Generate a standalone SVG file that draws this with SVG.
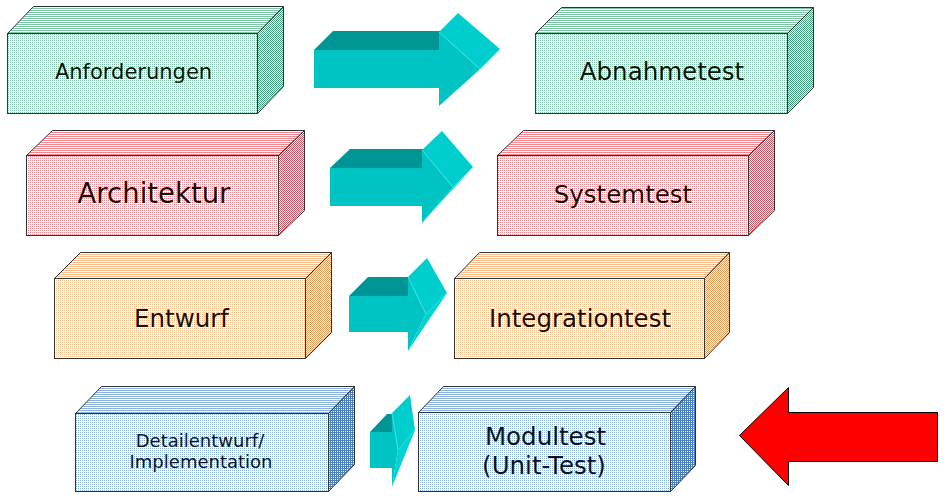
<svg xmlns="http://www.w3.org/2000/svg" width="948" height="503" viewBox="0 0 948 503">
<style>
.edge{stroke:#333;stroke-width:1;stroke-linejoin:miter}
.lbl{font-family:"DejaVu Sans","Verdana",sans-serif;fill:#111;text-anchor:middle}
.af{fill:#00C3C3}.at{fill:#009595}.au{fill:#00CDCD}.al{fill:#00D3D3}
.hl{stroke:#40E4E4;stroke-width:1;fill:none}
</style>
<defs>
<pattern id="gF" width="2" height="2" patternUnits="userSpaceOnUse"><rect width="2" height="2" fill="#fff"/><rect width="1" height="1" fill="#80c6a6"/></pattern>
<pattern id="gT" width="2" height="2" patternUnits="userSpaceOnUse"><rect width="2" height="2" fill="#fff"/><rect width="2" height="1" fill="#80c6a6"/></pattern>
<pattern id="gS" width="2" height="2" patternUnits="userSpaceOnUse"><rect width="2" height="2" fill="#fff"/><rect width="1" height="1" fill="#40a87a"/><rect x="1" y="1" width="1" height="1" fill="#40a87a"/></pattern>
<pattern id="rF" width="2" height="2" patternUnits="userSpaceOnUse"><rect width="2" height="2" fill="#fff"/><rect width="1" height="1" fill="#f08890"/></pattern>
<pattern id="rT" width="2" height="2" patternUnits="userSpaceOnUse"><rect width="2" height="2" fill="#fff"/><rect width="2" height="1" fill="#f08890"/></pattern>
<pattern id="rS" width="2" height="2" patternUnits="userSpaceOnUse"><rect width="2" height="2" fill="#fff"/><rect width="1" height="1" fill="#e05260"/><rect x="1" y="1" width="1" height="1" fill="#e05260"/></pattern>
<pattern id="oF" width="2" height="2" patternUnits="userSpaceOnUse"><rect width="2" height="2" fill="#fff"/><rect width="1" height="1" fill="#f8bc8e"/></pattern>
<pattern id="oT" width="2" height="2" patternUnits="userSpaceOnUse"><rect width="2" height="2" fill="#fff"/><rect width="2" height="1" fill="#f8bc8e"/></pattern>
<pattern id="oS" width="2" height="2" patternUnits="userSpaceOnUse"><rect width="2" height="2" fill="#fff"/><rect width="1" height="1" fill="#f09a5c"/><rect x="1" y="1" width="1" height="1" fill="#f09a5c"/></pattern>
<pattern id="bF" width="2" height="2" patternUnits="userSpaceOnUse"><rect width="2" height="2" fill="#fff"/><rect width="1" height="1" fill="#8cb2dc"/></pattern>
<pattern id="bT" width="2" height="2" patternUnits="userSpaceOnUse"><rect width="2" height="2" fill="#fff"/><rect width="2" height="1" fill="#8cb2dc"/></pattern>
<pattern id="bS" width="2" height="2" patternUnits="userSpaceOnUse"><rect width="2" height="2" fill="#4a80bc"/><rect x="1" y="1" width="1" height="1" fill="#fff"/></pattern>
</defs>
<rect width="948" height="503" fill="#fff"/>

<g id="anforderungen">
<polygon class="edge" fill="url(#gT)" points="7.5,33.5 33.5,6.5 283.5,6.5 257.5,33.5"/>
<polygon class="edge" fill="url(#gS)" points="257.5,33.5 283.5,6.5 283.5,86.5 257.5,113.5"/>
<rect class="edge" fill="url(#gF)" x="7.5" y="33.5" width="250" height="80"/>
<text class="lbl" x="133.5" y="79" font-size="21">Anforderungen</text>
</g>

<g id="abnahmetest">
<polygon class="edge" fill="url(#gT)" points="535.5,33.5 561.5,7.5 813.5,7.5 787.5,33.5"/>
<polygon class="edge" fill="url(#gS)" points="787.5,33.5 813.5,7.5 813.5,87.5 787.5,113.5"/>
<rect class="edge" fill="url(#gF)" x="535.5" y="33.5" width="252" height="80"/>
<text class="lbl" x="662" y="80" font-size="24.5">Abnahmetest</text>
</g>

<g id="architektur">
<polygon class="edge" fill="url(#rT)" points="26.5,155.5 52.5,130.5 304.5,130.5 278.5,155.5"/>
<polygon class="edge" fill="url(#rS)" points="278.5,155.5 304.5,130.5 304.5,210.5 278.5,235.5"/>
<rect class="edge" fill="url(#rF)" x="26.5" y="155.5" width="252" height="80"/>
<text class="lbl" x="154" y="203" font-size="27.5">Architektur</text>
</g>

<g id="systemtest">
<polygon class="edge" fill="url(#rT)" points="497.5,155.5 523.5,130.5 774.5,130.5 748.5,155.5"/>
<polygon class="edge" fill="url(#rS)" points="748.5,155.5 774.5,130.5 774.5,210.5 748.5,235.5"/>
<rect class="edge" fill="url(#rF)" x="497.5" y="155.5" width="251" height="80"/>
<text class="lbl" x="623" y="203" font-size="24.5">Systemtest</text>
</g>

<g id="entwurf">
<polygon class="edge" fill="url(#oT)" points="54.5,278.5 80.5,252.5 331.5,252.5 305.5,278.5"/>
<polygon class="edge" fill="url(#oS)" points="305.5,278.5 331.5,252.5 331.5,332.5 305.5,358.5"/>
<rect class="edge" fill="url(#oF)" x="54.5" y="278.5" width="251" height="80"/>
<text class="lbl" x="181.5" y="327" font-size="24.5">Entwurf</text>
</g>

<g id="integrationtest">
<polygon class="edge" fill="url(#oT)" points="454.5,278.5 479.5,252.5 729.5,252.5 704.5,278.5"/>
<polygon class="edge" fill="url(#oS)" points="704.5,278.5 729.5,252.5 729.5,332.5 704.5,358.5"/>
<rect class="edge" fill="url(#oF)" x="454.5" y="278.5" width="250" height="80"/>
<text class="lbl" x="580" y="327" font-size="24.5">Integrationtest</text>
</g>

<g id="detailentwurf">
<polygon class="edge" fill="url(#bT)" points="75.5,413.5 101.5,386.5 354.5,386.5 328.5,413.5"/>
<polygon class="edge" fill="url(#bS)" points="328.5,413.5 354.5,386.5 354.5,464.5 328.5,491.5"/>
<rect class="edge" fill="url(#bF)" x="75.5" y="413.5" width="253" height="78"/>
<text class="lbl" x="200" y="447" font-size="18">Detailentwurf/</text>
<text class="lbl" x="201" y="468" font-size="18">Implementation</text>
</g>

<g id="modultest">
<polygon class="edge" fill="url(#bT)" points="418.5,412.5 443.5,386.5 695.5,386.5 670.5,412.5"/>
<polygon class="edge" fill="url(#bS)" points="670.5,412.5 695.5,386.5 695.5,465.5 670.5,491.5"/>
<rect class="edge" fill="url(#bF)" x="418.5" y="412.5" width="252" height="79"/>
<text class="lbl" x="545.5" y="445" font-size="24.5">Modultest</text>
<text class="lbl" x="544" y="474" font-size="24.5">(Unit-Test)</text>
</g>

<g id="connectors">
<g id="arrow1">
<polygon class="at" points="314,50 333,31 458,31 439,50"/>
<rect class="af" x="314" y="50" width="125" height="38"/>
<polygon class="al" points="480,69 500,49 439,106"/>
<polygon class="au" points="439,32 458,13 500,49 480,69"/>
<polygon class="af" points="439,32 439,106 480,69"/>
<line class="hl" x1="439" y1="32" x2="480" y2="69"/>
</g>
<g id="arrow2">
<polygon class="at" points="330,168 350,149 442,149 422,168"/>
<rect class="af" x="330" y="168" width="92" height="38"/>
<polygon class="al" points="453,187 473,167 422,223"/>
<polygon class="au" points="422,150 442,131 473,167 453,187"/>
<polygon class="af" points="422,150 422,223 453,187"/>
<line class="hl" x1="422" y1="150" x2="453" y2="187"/>
</g>
<g id="arrow3">
<polygon class="at" points="349,296 368,277 427,277 408,296"/>
<rect class="af" x="349" y="296" width="59" height="36"/>
<polygon class="al" points="426,314 447,293 408,351"/>
<polygon class="au" points="408,277 427,258 447,293 426,314"/>
<polygon class="af" points="408,277 408,351 426,314"/>
<line class="hl" x1="408" y1="277" x2="426" y2="314"/>
</g>
<g id="arrow4">
<polygon class="at" points="370,432 387,414 410,414 392,432"/>
<rect class="af" x="370" y="432" width="22" height="36"/>
<polygon class="al" points="398,450 415,430 392,487"/>
<polygon class="au" points="392,413 410,395 415,430 398,450"/>
<polygon class="af" points="392,413 392,487 398,450"/>
<line class="hl" x1="392" y1="413" x2="398" y2="450"/>
</g>
<g id="arrow-red">
<polygon fill="#FF0000" stroke="#000" stroke-width="1" points="739.5,435.5 788.5,387.5 788.5,412.5 937.5,412.5 937.5,461.5 788.5,461.5 788.5,485.5"/>
</g>
</g>
</svg>
